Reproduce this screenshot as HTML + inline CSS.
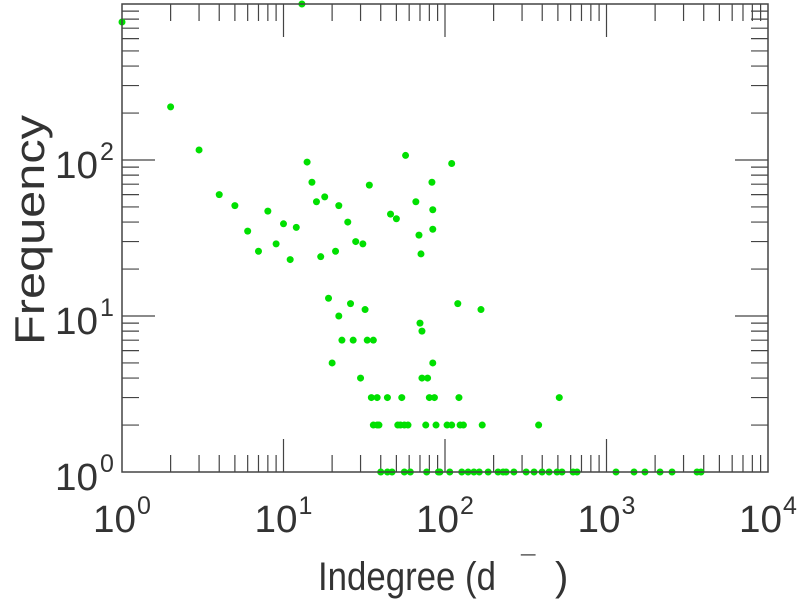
<!DOCTYPE html>
<html><head><meta charset="utf-8"><style>
html,body{margin:0;padding:0;background:#fff;}
svg text{font-family:"Liberation Sans",sans-serif;fill:#333;}
</style></head><body>
<svg id="chart" width="801" height="600" xmlns="http://www.w3.org/2000/svg">
<g id="ticks"></g>
<g id="points"></g>
<rect x="122" y="4" width="646" height="468" fill="none" stroke="#444" stroke-width="1.5"/>
<g id="labels"></g>
<text x="0" y="0" font-size="42" text-anchor="middle" textLength="230" lengthAdjust="spacingAndGlyphs" transform="translate(44,230) rotate(-90)">Frequency</text>
<g>
<text x="318" y="590" font-size="40" textLength="178" lengthAdjust="spacingAndGlyphs">Indegree (d</text>
<text x="521" y="574" font-size="26">¯</text>
<text x="555" y="590" font-size="40">)</text>
</g>
</svg>
<script>
const xValues=[1,13,2,3,4,5,6,7,8,9,10,11,12,14,15,16,17,18,19,21,20,22,22,23,25,26,27,28,30,31,32,34,33,36,35,38,36,38,39,44,46,50,54,51,57,53,56,59,66,69,70,71,72,72,78,76,80,83,84,84,84,86,88,110,103,110,120,122,124,130,167,170,380,510,
40,44,47,56,61,77,91,93,107,127,139,151,163,185,213,229,239,267,318,356,399,441,494,530,621,657,1145,1480,1730,2145,2545,3634,3846];
const yValues=[767,1000,219,116,60,51,35,26,47,29,39,23,37,97,72,54,24,58,13,26,5,10,51,7,40,12,7,30,4,29,11,69,7,7,3,3,2,2,2,3,45,42,3,2,107,2,2,2,54,33,9,25,8,4,4,2,3,72,48,36,5,3,2,95,2,2,12,3,2,2,11,2,2,3,
1,1,1,1,1,1,1,1,1,1,1,1,1,1,1,1,1,1,1,1,1,1,1,1,1,1,1,1,1,1,1,1,1];
const xDecades=[0,1,2,3,4];
const yDecades=[0,1,2];
const NS='http://www.w3.org/2000/svg';
const L=122,R=768,T=4,B=472;
function xs(v){return L+(R-L)*Math.log10(v)/4;}
function ys(v){return B-(B-T)*Math.log10(v)/3;}
function mk(t,a,p){const e=document.createElementNS(NS,t);for(const k in a)e.setAttribute(k,a[k]);p.appendChild(e);return e;}
const tg=document.getElementById('ticks'),lg=document.getElementById('labels'),pg=document.getElementById('points');
for(let d=0;d<4;d++)for(let m=1;m<10;m++){const v=Math.pow(10,d)*m;const x=xs(v),len=m==1?33:17;
 if(m==1&&d==0)continue;
 const a=mk('line',{x1:x,x2:x,y1:B,y2:B-len,stroke:'#444','stroke-width':1.2},tg);
 const b=mk('line',{x1:x,x2:x,y1:T,y2:T+len,stroke:'#444','stroke-width':1.2},tg);}
for(let d=0;d<3;d++)for(let m=1;m<10;m++){const v=Math.pow(10,d)*m;const y=ys(v),len=m==1?33:17;
 if(m==1&&d==0)continue;
 const a=mk('line',{x1:L,x2:L+len,y1:y,y2:y,stroke:'#444','stroke-width':1.2},tg);
 const b=mk('line',{x1:R,x2:R-len,y1:y,y2:y,stroke:'#444','stroke-width':1.2},tg);}
xDecades.forEach(d=>{const x=xs(Math.pow(10,d));
 const t=mk('text',{x:x-29,y:532,'font-size':38,textLength:43,lengthAdjust:'spacingAndGlyphs'},lg);
 t.textContent='10';
 const s=mk('text',{x:x+15,y:514,'font-size':25},lg);
 s.textContent=d;});
yDecades.forEach(d=>{const y=ys(Math.pow(10,d));
 const t=mk('text',{x:55,y:y+18,'font-size':38,textLength:43,lengthAdjust:'spacingAndGlyphs'},lg);
 t.textContent='10';
 const s=mk('text',{x:100,y:y,'font-size':25},lg);
 s.textContent=d;});
xValues.forEach((xv,i)=>{const c=mk('circle',{cx:xs(xv),cy:ys(yValues[i]),r:3.5,fill:'#00e000'},pg);
 
 });
</script>
</body></html>
